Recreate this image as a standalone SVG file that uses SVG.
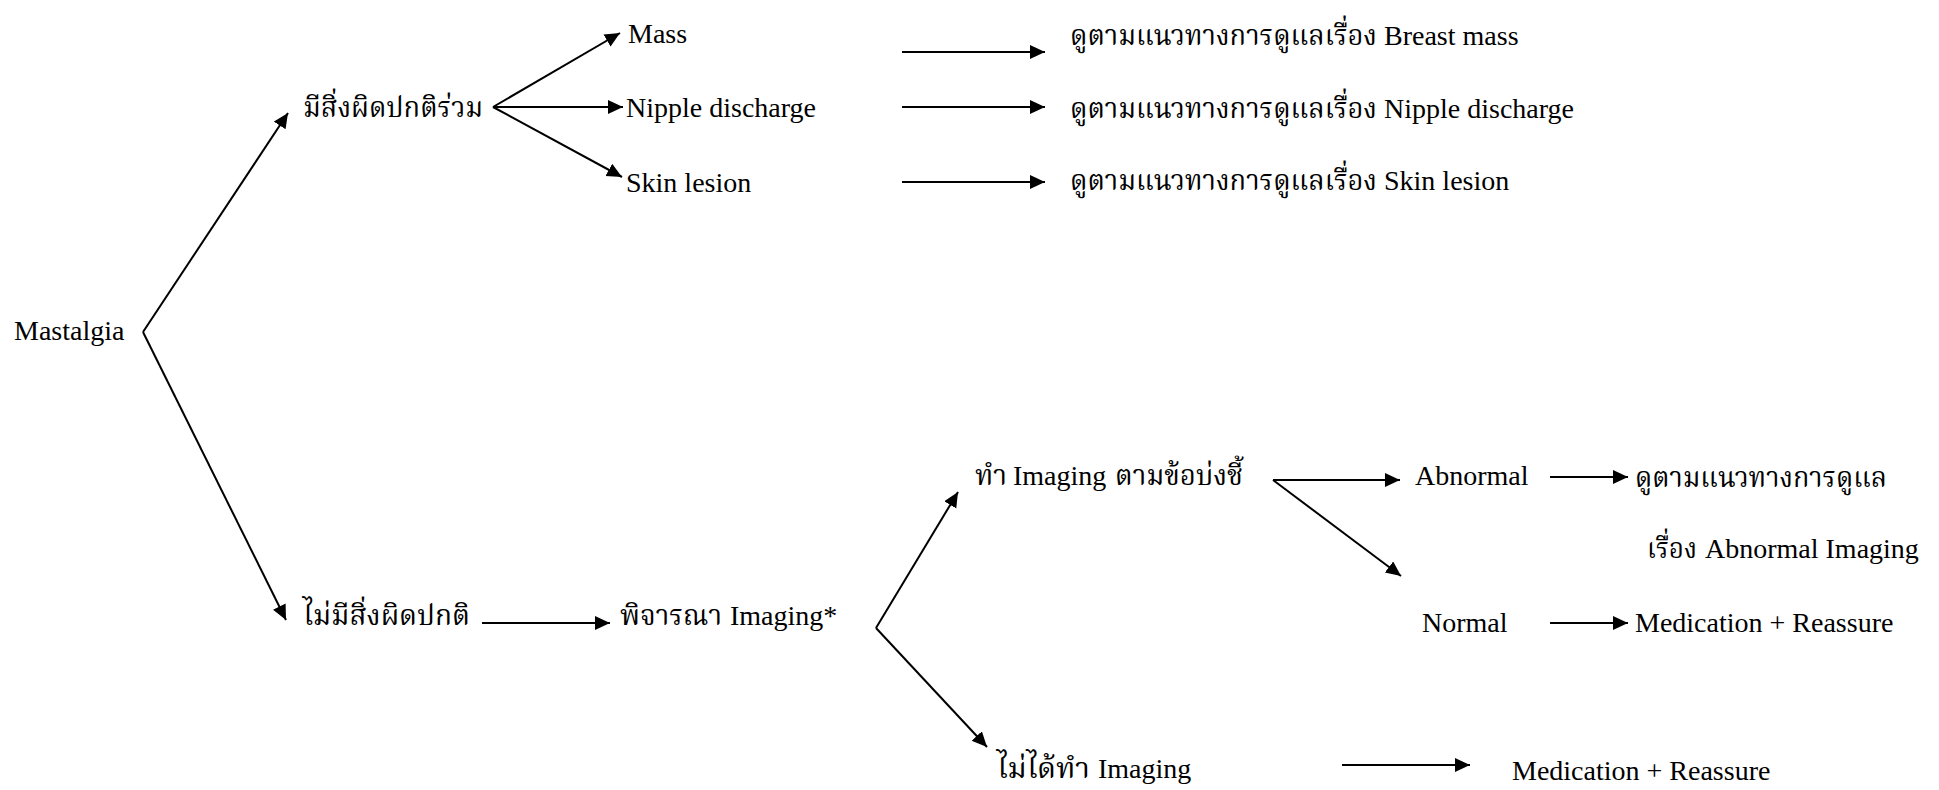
<svg xmlns="http://www.w3.org/2000/svg" width="1939" height="790" viewBox="0 0 1939 790">
<style>
text { font-family: "Liberation Serif", serif; font-size: 28px; fill: #000; }
text.th { font-family: "Noto Serif Thai", "Norasi", "Liberation Serif", serif; }
.c line { stroke: #000; stroke-width: 2; fill: none; }
</style>
<defs>
<marker id="ah" markerUnits="userSpaceOnUse" markerWidth="16" markerHeight="16" refX="15" refY="7" orient="auto">
<path d="M0,0 L15,7 L0,14 z" fill="#000"/>
</marker>
</defs>
<rect width="1939" height="790" fill="#fff"/>
<g class="c" id="connectors">
<line x1="143" y1="332" x2="288" y2="113" marker-end="url(#ah)"/>
<line x1="143" y1="332" x2="286" y2="620" marker-end="url(#ah)"/>
<line x1="493" y1="107" x2="620" y2="33" marker-end="url(#ah)"/>
<line x1="493" y1="107" x2="623" y2="107" marker-end="url(#ah)"/>
<line x1="493" y1="107" x2="622" y2="177" marker-end="url(#ah)"/>
<line x1="902" y1="52" x2="1045" y2="52" marker-end="url(#ah)"/>
<line x1="902" y1="107" x2="1045" y2="107" marker-end="url(#ah)"/>
<line x1="902" y1="182" x2="1045" y2="182" marker-end="url(#ah)"/>
<line x1="482" y1="623" x2="610" y2="623" marker-end="url(#ah)"/>
<line x1="876" y1="628" x2="958" y2="492" marker-end="url(#ah)"/>
<line x1="876" y1="628" x2="987" y2="747" marker-end="url(#ah)"/>
<line x1="1273" y1="480" x2="1400" y2="480" marker-end="url(#ah)"/>
<line x1="1273" y1="480" x2="1401" y2="576" marker-end="url(#ah)"/>
<line x1="1550" y1="477" x2="1628" y2="477" marker-end="url(#ah)"/>
<line x1="1550" y1="623" x2="1628" y2="623" marker-end="url(#ah)"/>
<line x1="1342" y1="765" x2="1470" y2="765" marker-end="url(#ah)"/>
</g>
<g id="mastalgia"><text x="14" y="340">Mastalgia</text></g>
<g id="abnormal-assoc"><text class="th" x="303" y="117" textLength="180" lengthAdjust="spacingAndGlyphs">มีสิ่งผิดปกติร่วม</text></g>
<g id="mass"><text x="628" y="43">Mass</text></g>
<g id="nipple"><text x="626" y="117">Nipple discharge</text></g>
<g id="skin"><text x="626" y="192">Skin lesion</text></g>
<g id="guide-mass"><text class="th" x="1070" y="45" textLength="307" lengthAdjust="spacingAndGlyphs">ดูตามแนวทางการดูแลเรื่อง</text><text x="1384" y="45">Breast mass</text></g>
<g id="guide-nipple"><text class="th" x="1070" y="118" textLength="307" lengthAdjust="spacingAndGlyphs">ดูตามแนวทางการดูแลเรื่อง</text><text x="1384" y="118">Nipple discharge</text></g>
<g id="guide-skin"><text class="th" x="1070" y="190" textLength="307" lengthAdjust="spacingAndGlyphs">ดูตามแนวทางการดูแลเรื่อง</text><text x="1384" y="190">Skin lesion</text></g>
<g id="no-abnormal"><text class="th" x="303" y="625" textLength="167" lengthAdjust="spacingAndGlyphs">ไม่มีสิ่งผิดปกติ</text></g>
<g id="consider"><text class="th" x="620" y="625" textLength="102" lengthAdjust="spacingAndGlyphs">พิจารณา</text><text x="730" y="625">Imaging*</text></g>
<g id="do-imaging"><text class="th" x="975" y="485" textLength="32" lengthAdjust="spacingAndGlyphs">ทำ</text><text x="1013" y="485">Imaging</text><text class="th" x="1115" y="485" textLength="128" lengthAdjust="spacingAndGlyphs">ตามข้อบ่งชี้</text></g>
<g id="no-imaging"><text class="th" x="997" y="778" textLength="93" lengthAdjust="spacingAndGlyphs">ไม่ได้ทำ</text><text x="1098" y="778">Imaging</text></g>
<g id="abnormal"><text x="1415" y="485">Abnormal</text></g>
<g id="guide-abn"><text class="th" x="1635" y="487" textLength="252" lengthAdjust="spacingAndGlyphs">ดูตามแนวทางการดูแล</text><text class="th" x="1647" y="558" textLength="50" lengthAdjust="spacingAndGlyphs">เรื่อง</text><text x="1705" y="558">Abnormal Imaging</text></g>
<g id="normal"><text x="1422" y="632">Normal</text></g>
<g id="med1"><text x="1635" y="632">Medication + Reassure</text></g>
<g id="med2"><text x="1512" y="780">Medication + Reassure</text></g>
</svg>
